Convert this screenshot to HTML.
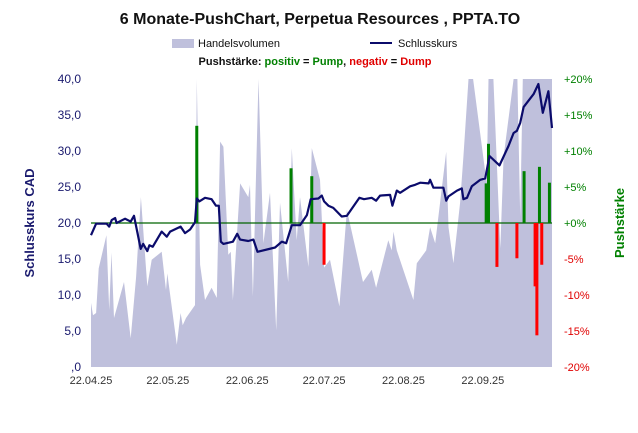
<!DOCTYPE html>
<html><head><meta charset="utf-8"><style>
body{margin:0;background:#fff;}
svg text{font-family:"Liberation Sans",sans-serif;}
</style></head><body>
<svg id="c" width="638" height="428" xmlns="http://www.w3.org/2000/svg">
<text x="320" y="24" text-anchor="middle" font-size="16" font-weight="bold" fill="#111">6 Monate-PushChart, Perpetua Resources , PPTA.TO</text>
<rect x="172" y="39" width="22" height="9" fill="#bfc0dc"/>
<text x="198" y="47" font-size="11" fill="#111">Handelsvolumen</text>
<line x1="370" y1="43" x2="392" y2="43" stroke="#0b0b6b" stroke-width="2"/>
<text x="398" y="47" font-size="11" fill="#111">Schlusskurs</text>
<text x="315" y="65" text-anchor="middle" font-size="11" font-weight="bold" fill="#111">Pushstärke: <tspan fill="#008000">positiv</tspan> = <tspan fill="#008000">Pump</tspan>, <tspan fill="#e00000">negativ</tspan> = <tspan fill="#e00000">Dump</tspan></text>
<text transform="translate(34,223) rotate(-90)" text-anchor="middle" font-size="13" font-weight="bold" fill="#1a1a6e">Schlusskurs CAD</text>
<text transform="translate(624,223) rotate(-90)" text-anchor="middle" font-size="13" font-weight="bold" fill="#008000">Pushstärke</text>
<g id="vol"></g><g id="zero"></g><g id="push"></g><g id="line"></g><g id="axes"></g>
</svg>
<script>
const volDays=[0,0.8,2,3,6,7.1,8,9,12.9,15.5,17.6,19.5,22,23.7,27.6,29.3,29.8,33.5,35,35.8,37.1,40.6,41.3,42.6,44.5,47.1,49.1,50.4,51.7,53.6,54.6,55.4,58.2,61.4,62.1,63.2,65.4,67.3,69.9,72.3,73.8,77,78.4,80.3,81.6,84.9,86.2,89.4,91,93.3,97,99.9,106.2,109.6,111.3,116.1,117.4,118.1,119.4,125.9,127.2,130.9,132.4,134.4,138.7,139.6,141.5,144.1,145.4,147.4,149.2,154.5,155.2,157.1,159.8,161.1,165,166.5,167.6,168.6,180];
const volValues=[8.9,7.2,7.5,13.7,18.3,7.9,15.9,6.8,11.8,4.0,12.5,23.6,11.2,14.9,16.0,10.7,13.0,3.1,7.5,5.8,6.8,8.6,40,14.2,9.3,11.0,9.6,31.3,30.6,15.6,16.0,9.3,25.5,23.6,25.3,9.8,40,17.2,24.2,5.1,22.8,11.8,30.4,17.6,23.6,13.9,30.4,26.0,13.8,14.9,8.4,21.8,11.8,13.5,11.0,17.6,16.2,18.8,16.2,9.3,14.4,16.2,19.4,17.2,29.9,19.4,14.4,22.8,29.2,40,40,25.5,40,40,16.5,29.2,40,40,20.9,40,40];
const priceDays=[0,2,6.1,7.1,8.1,9.4,10,13.3,15.5,16.8,19.4,20.4,22,22.8,24.1,27.6,29.6,30.9,35,36.7,38.7,40.6,41.3,42.3,44.5,47.1,48.8,49.9,50.7,51.7,55.4,57.1,58.2,61.4,63.4,65,71.9,74.5,76.2,78.4,81.6,84.3,85.8,88.8,90.1,91,92.7,94.6,97.9,99.9,104.8,106.6,109.6,111.3,112.9,116.8,117.7,119.4,120.7,124.6,126.6,128.5,131.8,132.4,133.7,137.6,138.7,139.6,142.9,144.8,145.4,146.8,148.7,152,153.9,155.6,159.5,163,165,166.3,167.6,168.9,172.8,174.7,176.4,178.6,180];
const priceValues=[18.3,19.9,19.9,19.5,20.4,20.7,20.0,20.6,20.2,21.0,16.4,17.1,16.1,16.9,16.7,18.8,18.1,18.8,19.5,18.6,19.1,20.1,23.4,23.0,23.5,23.3,22.4,22.4,17.4,17.1,17.4,18.5,17.7,17.5,17.7,16.0,16.6,17.4,17.2,19.7,19.7,21.1,23.3,23.4,23.8,23.0,22.4,22.1,20.9,21.0,23.5,23.3,23.5,23.1,23.8,23.9,22.4,24.5,24.2,25.1,25.3,25.6,25.5,26.0,24.9,24.9,23.1,23.7,24.5,24.8,23.3,23.5,25.1,26.0,26.2,29.3,28.0,30.7,32.5,32.8,33.9,36.1,37.9,39.3,35.3,38.3,33.2];
const pushDays=[41.3,78.1,86.2,91,154.3,155.2,158.5,166.3,169.1,173.4,174.1,175.1,176,179];
const pushValues=[13.5,7.6,6.5,-5.8,5.5,11.0,-6.1,-4.9,7.2,-8.8,-15.6,7.8,-5.8,5.6];
const leftTicks=["40,0","35,0","30,0","25,0","20,0","15,0","10,0","5,0",",0"];
const leftTickValues=[40,35,30,25,20,15,10,5,0];
const rightTicks=["+20%","+15%","+10%","+5%","+0%","-5%","-10%","-15%","-20%"];
const rightTickValues=[20,15,10,5,0,-5,-10,-15,-20];
const xTicks=["22.04.25","22.05.25","22.06.25","22.07.25","22.08.25","22.09.25"];
const xTickDays=[0,30,61,91,122,153];

const X0=91,X1=552,YT=79,YB=367,DAYS=180;
const xs=d=>X0+d/DAYS*(X1-X0);
const yL=v=>YB-(Math.min(v,40))/40*(YB-YT);
const yR=p=>(YT+YB)/2-p/20*(YB-YT)/2;
const NS="http://www.w3.org/2000/svg";
function mk(tag,parent,attrs){const e=document.createElementNS(NS,tag);for(const k in attrs)e.setAttribute(k,attrs[k]);document.getElementById(parent).appendChild(e);return e;}

let vp=`M${xs(volDays[0])},${YB} `;
volDays.forEach((d,i)=>{vp+=`L${xs(d).toFixed(1)},${yL(volValues[i]).toFixed(1)} `;});
vp+=`L${xs(volDays[volDays.length-1])},${YB} Z`;
const va=mk('path','vol',{d:vp,fill:'#bfc0dc'});



const z=mk('line','zero',{x1:X0,x2:X1,y1:yR(0),y2:yR(0),stroke:'#006400','stroke-width':1.2});



pushDays.forEach((d,i)=>{const v=pushValues[i];const y0=yR(0),y1=yR(v);
const r=mk('rect','push',{x:xs(d)-1.5,y:Math.min(y0,y1),width:3,height:Math.abs(y1-y0),fill:v>=0?'#008000':'#ff0000'});

});

const pl=mk('polyline','line',{points:priceDays.map((d,i)=>xs(d).toFixed(1)+','+yL(priceValues[i]).toFixed(1)).join(' '),fill:'none',stroke:'#0b0b6b','stroke-width':2.2,'stroke-linejoin':'round'});



leftTicks.forEach((t,i)=>{const e=mk('text','axes',{x:81,y:yL(leftTickValues[i])+4,'text-anchor':'end','font-size':12,fill:'#1a1a6e'});e.textContent=t;

});
rightTicks.forEach((t,i)=>{const e=mk('text','axes',{x:564,y:yR(rightTickValues[i])+4,'font-size':11,fill:rightTickValues[i]>=0?'#008000':'#e00000'});e.textContent=t;

});
xTicks.forEach((t,i)=>{const e=mk('text','axes',{x:xs(xTickDays[i]),y:384,'text-anchor':'middle','font-size':11,fill:'#333'});e.textContent=t;

});
</script>
</body></html>
